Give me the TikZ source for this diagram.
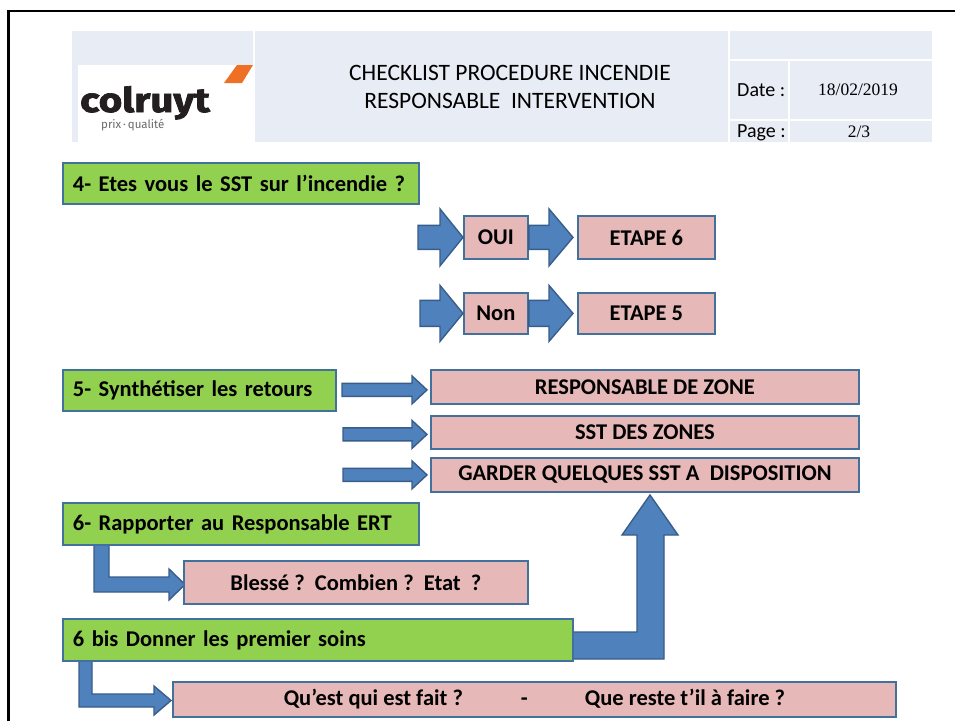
\documentclass[tikz,border=0pt]{standalone}
\usepackage{fontspec}
\usepackage{graphicx}
\setmainfont{Carlito}
\newfontfamily\timesf{Liberation Serif}
\newfontfamily\logof{Fira Sans}[BoldFeatures={FakeBold=2}]
\usetikzlibrary{calc}
\definecolor{hdr}{RGB}{232,236,244}
\definecolor{gfill}{RGB}{146,208,80}
\definecolor{pfill}{RGB}{230,185,184}
\definecolor{bord}{RGB}{65,113,156}
\definecolor{afill}{RGB}{79,129,189}
\definecolor{aline}{RGB}{56,93,138}
\definecolor{orng}{RGB}{237,112,36}
\definecolor{logodark}{RGB}{35,31,32}
\definecolor{logogrey}{RGB}{105,105,105}
\newcommand\harrow[5]{%
  \filldraw[blockarrow] ($(#1)+(0,-#3)$) -- ($(#2)+(-#5,-#3)$) -- ($(#2)+(-#5,-#4)$) -- (#2)
    -- ($(#2)+(-#5,#4)$) -- ($(#2)+(-#5,#3)$) -- ($(#1)+(0,#3)$) -- cycle;}
\begin{document}
\begin{tikzpicture}[x=1pt,y=-1pt,
  boxfont/.style={font=\fontsize{22.5}{26}\selectfont\bfseries},
  gbox/.style={draw=bord, fill=gfill, line width=1.8pt, anchor=north west, align=left, inner xsep=10pt, inner ysep=0pt, boxfont},
  pbox/.style={draw=bord, fill=pfill, line width=1.8pt, anchor=north west, align=center, inner sep=0pt, boxfont},
  blockarrow/.style={fill=afill, draw=aline, line width=1.4pt, line join=miter},
  hcell/.style={fill=hdr, draw=none},
  hdrtext/.style={font=\fontsize{20}{24}\selectfont, inner sep=0pt},
  hdrval/.style={font=\timesf\fontsize{17.5}{20}\selectfont, inner sep=0pt}]
\useasboundingbox (0,0) rectangle (955,720);
\fill[white] (0,0) rectangle (955,720);
% page frame
\draw[line width=2.6pt, black] (8.5,725) -- (8.5,11) -- (960,11);
% header cells
\fill[hcell] (72,31) rectangle (253,142);
\fill[hcell] (255,31) rectangle (728,142);
\fill[hcell] (730,31) rectangle (932,59);
\fill[hcell] (730,61) rectangle (788,119);
\fill[hcell] (790,61) rectangle (932,119);
\fill[hcell] (730,121) rectangle (788,142);
\fill[hcell] (790,121) rectangle (932,142);
% logo
\fill[white] (78,65) rectangle (253,142);
\fill[orng] (237,65) -- (253,65) -- (242,83) -- (224,83) -- cycle;
\node[anchor=base west, inner sep=0pt, text=logodark, font=\logof\bfseries\fontsize{31}{31}\selectfont] (logo) at (80,112) {\scalebox{1.3}[1.1]{colruyt}};
\node[anchor=base west, inner sep=0pt, text=logogrey, font=\logof\fontsize{11.5}{13}\selectfont] (logosub) at (101,128) {prix\,·\,qualité};
% header texts
\node[align=center, font=\fontsize{23.5}{28}\selectfont, inner sep=0pt] (title) at (510,87) {CHECKLIST PROCEDURE INCENDIE\\RESPONSABLE\ \ INTERVENTION};
\node[hdrtext, anchor=west] (datel) at (737,90) {Date :};
\node[hdrval] (datev) at (858,90) {18/02/2019};
\node[hdrtext, anchor=west] (pagel) at (737,133) {Page :};
\node[hdrval] (pagev) at (859,132) {2/3};
% bent arrows (drawn below boxes)
\filldraw[blockarrow] (94,544) -- (109,544) -- (109,577) -- (169,577) -- (169,569) -- (185,584.5) -- (169,600) -- (169,592) -- (94,592) -- cycle;
\filldraw[blockarrow] (79,660) -- (92,660) -- (92,694) -- (154,694) -- (154,686) -- (171,700.5) -- (154,715) -- (154,707) -- (79,707) -- cycle;
\filldraw[blockarrow] (570,632) -- (637,632) -- (637,535) -- (622,535) -- (650,495) -- (678,535) -- (664,535) -- (664,659) -- (570,659) -- cycle;
% green boxes
\node[gbox, minimum width=356pt, minimum height=41pt, text width=336pt] (s4) at (62,162) {4- Etes vous le SST sur l’incendie ?};
\node[gbox, minimum width=273pt, minimum height=41pt, text width=253pt] (s5) at (62,369) {5- Synthétiser les retours};
\node[gbox, minimum width=356pt, minimum height=42pt, text width=336pt] (s6) at (62,502) {6- Rapporter au Responsable ERT};
\node[gbox, minimum width=510pt, minimum height=42pt, text width=490pt] (s6b) at (62,618) {6 bis Donner les premier soins};
% pink boxes
\node[pbox, minimum width=64pt, minimum height=43pt] (oui) at (463,215) {OUI};
\node[pbox, minimum width=137pt, minimum height=43pt] (e6) at (577,215) {ETAPE 6};
\node[pbox, minimum width=64pt, minimum height=41pt] (non) at (463,292) {Non};
\node[pbox, minimum width=137pt, minimum height=41pt] (e5) at (577,292) {ETAPE 5};
\node[pbox, minimum width=428pt, minimum height=34pt] (rz) at (430,369) {RESPONSABLE DE ZONE};
\node[pbox, minimum width=428pt, minimum height=33pt] (sz) at (430,415) {SST DES ZONES};
\node[pbox, minimum width=428pt, minimum height=34pt] (gd) at (430,457) {GARDER QUELQUES SST A\ \ DISPOSITION};
\node[pbox, minimum width=344pt, minimum height=43pt] (bl) at (183,560) {Blessé ?\ \ Combien ?\ \ Etat\ \ ?};
\node[pbox, minimum width=723pt, minimum height=35pt] (qe) at (172,681) {Qu’est qui est fait ?\hspace{58pt}-\hspace{57pt}Que reste t’il à faire ?};
% straight block arrows
\coordinate (a1s) at ($(oui.west)+(-45,0)$);
\harrow{a1s}{oui.west}{12}{28.5}{23}
\coordinate (a2t) at ($(e6.west)+(-4,0)$);
\harrow{oui.east}{a2t}{12}{28.5}{24}
\coordinate (a3s) at ($(non.west)+(-43,0)$);
\harrow{a3s}{non.west}{13}{28}{23}
\coordinate (a4t) at ($(e5.west)+(-4,0)$);
\harrow{non.east}{a4t}{13}{28}{24}
\coordinate (b1t) at ($(rz.west)+(-3,3)$);
\coordinate (b1s) at ($(rz.west)+(-88,3)$);
\harrow{b1s}{b1t}{6.5}{14}{15}
\coordinate (b2t) at ($(sz.west)+(-3,2)$);
\coordinate (b2s) at ($(sz.west)+(-87,2)$);
\harrow{b2s}{b2t}{6.5}{14}{15}
\coordinate (b3t) at ($(gd.west)+(-3,0)$);
\coordinate (b3s) at ($(gd.west)+(-87,0)$);
\harrow{b3s}{b3t}{6.5}{14}{15}
\end{tikzpicture}
\end{document}
